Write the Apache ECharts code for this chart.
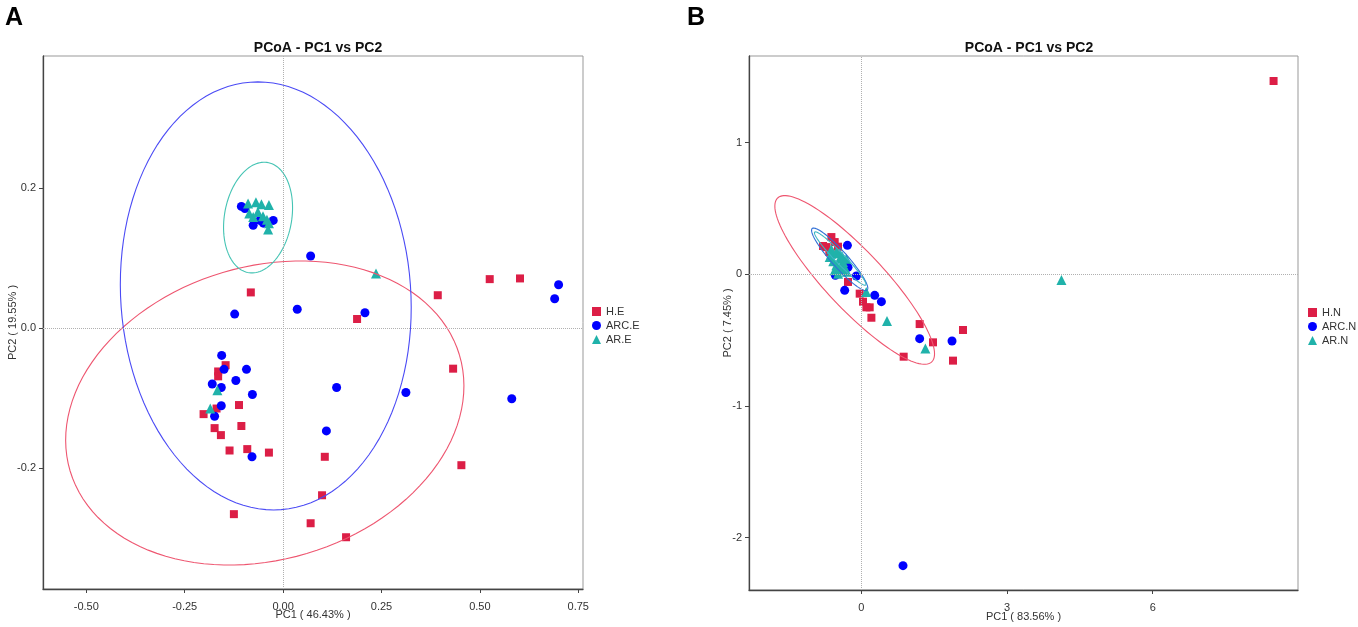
<!DOCTYPE html>
<html>
<head>
<meta charset="utf-8">
<script src="https://cdn.jsdelivr.net/npm/echarts@6/dist/echarts.min.js"></script>
<style>
  html, body { margin: 0; padding: 0; background: #fff; }
  #main { width: 1358px; height: 627px; }
</style>
</head>
<body>
<div id="main"></div>
<script>
// ---- panel A data (PC1, PC2) ----
var hE = [
  [-0.082, 0.051], [0.188, 0.013], [0.393, 0.047], [0.525, 0.070], [0.602, 0.071],
  [0.432, -0.058], [0.453, -0.196], [-0.146, -0.053], [-0.165, -0.062], [-0.165, -0.069],
  [-0.112, -0.110], [-0.169, -0.115], [-0.202, -0.123], [-0.174, -0.143], [-0.158, -0.153],
  [-0.106, -0.140], [-0.136, -0.175], [-0.091, -0.173], [-0.036, -0.178], [0.106, -0.184],
  [0.099, -0.239], [-0.125, -0.266], [0.070, -0.279], [0.160, -0.299]
];
var arcE = [
  [-0.106, 0.174], [-0.097, 0.171], [-0.076, 0.147], [-0.025, 0.154], [-0.059, 0.154],
  [-0.050, 0.150], [0.070, 0.103], [-0.123, 0.020], [0.036, 0.027], [0.208, 0.022],
  [0.700, 0.062], [0.690, 0.042], [0.136, -0.085], [0.312, -0.092], [0.581, -0.101],
  [0.110, -0.147], [-0.079, -0.184], [-0.156, -0.039], [-0.150, -0.059], [-0.093, -0.059],
  [-0.120, -0.075], [-0.180, -0.080], [-0.157, -0.085], [-0.078, -0.095], [-0.157, -0.111],
  [-0.174, -0.126]
];
var arE = [
  [-0.089, 0.178], [-0.069, 0.180], [-0.055, 0.177], [-0.036, 0.176], [-0.086, 0.164],
  [-0.064, 0.166], [-0.051, 0.160], [-0.041, 0.155], [-0.036, 0.150], [-0.038, 0.141],
  [-0.076, 0.159], [0.236, 0.078], [-0.167, -0.089], [-0.185, -0.115]
];
// ellipse: centre x, centre y, axis vector 1 (x, y), axis vector 2 (x, y)
var ellA = [
  [-0.0465, -0.1214, 0.4946, 0.0829, 0.1066, -0.2009],
  [-0.044, 0.046, 0.369, 0.0, -0.020, 0.306],
  [-0.0636, 0.158, 0.0872, 0.006, 0.009, 0.0789]
];

// ---- panel B data ----
var hN = [
  [8.49, 1.469], [2.093, -0.423], [1.887, -0.656], [1.475, -0.517], [1.20, -0.378],
  [0.871, -0.626], [0.206, -0.330], [0.171, -0.251], [0.103, -0.251], [0.033, -0.208],
  [-0.035, -0.147], [-0.276, -0.058], [-0.618, 0.283], [-0.55, 0.245], [-0.72, 0.207],
  [-0.79, 0.215], [-0.482, 0.210], [-0.66, 0.17]
];
var arcN = [
  [0.857, -2.214], [1.867, -0.507], [1.20, -0.489], [0.412, -0.208], [0.274, -0.160],
  [-0.344, -0.122], [-0.103, -0.013], [-0.536, -0.008], [-0.288, 0.220], [-0.276, 0.053]
];
var arN = [
  [-0.618, 0.157], [-0.515, 0.169], [-0.447, 0.119], [-0.379, 0.093], [-0.412, 0.055],
  [-0.344, 0.030], [-0.515, 0.068], [-0.48, 0.005], [-0.653, 0.131], [-0.31, 0.119],
  [-0.58, 0.10], [-0.45, 0.16], [-0.40, 0.14], [-0.36, 0.06], [-0.30, 0.02],
  [-0.55, 0.03], [-0.62, 0.19], [-0.47, 0.04],
  [0.10, -0.134], [0.528, -0.355], [1.318, -0.563], [4.12, -0.043]
];
var ellB = [
  [-0.138, -0.043, 1.586, -0.623, 0.435, 0.151],
  [-0.447, 0.114, 0.566, -0.234, -0.123, -0.0405],
  [-0.437, 0.120, 0.525, -0.201, -0.074, -0.026]
];

// tick labels
var xTicksA = [-0.5, -0.25, 0, 0.25, 0.5, 0.75];
var yTicksA = [-0.2, 0, 0.2];
var xTicksB = [0, 3, 6];
var yTicksB = [-2, -1, 0, 1];

var RED = '#dc1e46', BLUE = '#0000ff', TEAL = '#20b2aa';
var ellColors = ['#ee5670', '#4b4bf5', '#45c4b4'];
var ellColorsB = ['#ee5670', '#2f6fd6', '#3fb6c4'];
var FONT = '"Liberation Sans", Arial, sans-serif';

var chart = echarts.init(document.getElementById('main'));

function valueAxis(idx, min, max, ticks, fmt, name, gap, isX) {
  return {
    type: 'value', gridIndex: idx, min: min, max: max,
    name: name, nameLocation: 'middle', nameGap: gap, nameMoveOverlap: false,
    nameTextStyle: { fontFamily: FONT, fontSize: 11, color: '#333' },
    axisLine: { onZero: false, lineStyle: { color: '#444', width: 1.3 } },
    axisTick: { length: 4, customValues: ticks, lineStyle: { color: '#444' } },
    axisLabel: {
      customValues: ticks, margin: isX ? 12 : 7,
      fontFamily: FONT, fontSize: 11, color: '#333',
      formatter: fmt
    },
    splitLine: { show: false }
  };
}

function ellipseSeries(data, colors, xi, yi) {
  return {
    type: 'custom', xAxisIndex: xi, yAxisIndex: yi, silent: true, z: 4,
    data: data,
    encode: { x: 0, y: 1 },
    renderItem: function (params, api) {
      var cx = api.value(0), cy = api.value(1);
      var ax = api.value(2), ay = api.value(3), bx = api.value(4), by = api.value(5);
      var pts = [];
      for (var i = 0; i <= 120; i++) {
        var t = i / 120 * Math.PI * 2;
        pts.push(api.coord([cx + ax * Math.cos(t) + bx * Math.sin(t),
                            cy + ay * Math.cos(t) + by * Math.sin(t)]));
      }
      return {
        type: 'polyline', shape: { points: pts },
        style: { stroke: colors[params.dataIndex], fill: null, lineWidth: 1.1 }
      };
    },
    markLine: {
      silent: true, symbol: ['none', 'none'], label: { show: false },
      lineStyle: { color: '#b0b0b0', type: 'dotted', width: 1 },
      data: [{ xAxis: 0 }, { yAxis: 0 }]
    }
  };
}

function scatter(name, data, symbol, size, color, xi, yi) {
  return {
    name: name, type: 'scatter', xAxisIndex: xi, yAxisIndex: yi,
    data: data, symbol: symbol, symbolSize: size, z: 3,
    itemStyle: { color: color, opacity: 1 }
  };
}

var option = {
  animation: false,
  backgroundColor: '#fff',
  title: [
    { text: 'A', left: 0, top: 1, textStyle: { fontFamily: FONT, fontSize: 25, fontWeight: 'bold', color: '#000' } },
    { text: 'B', left: 682, top: 1, textStyle: { fontFamily: FONT, fontSize: 25, fontWeight: 'bold', color: '#000' } },
    { text: 'PCoA - PC1 vs PC2', left: 313, top: 36, textAlign: 'center',
      textStyle: { fontFamily: FONT, fontSize: 14, fontWeight: 'bold', color: '#111' } },
    { text: 'PCoA - PC1 vs PC2', left: 1024, top: 36, textAlign: 'center',
      textStyle: { fontFamily: FONT, fontSize: 14, fontWeight: 'bold', color: '#111' } }
  ],
  legend: [
    { data: ['H.E', 'ARC.E', 'AR.E'], orient: 'vertical', left: 592, top: 306,
      itemWidth: 9, itemHeight: 9, itemGap: 3, padding: 0,
      textStyle: { fontFamily: FONT, fontSize: 11, color: '#333' } },
    { data: ['H.N', 'ARC.N', 'AR.N'], orient: 'vertical', left: 1308, top: 307,
      itemWidth: 9, itemHeight: 9, itemGap: 3, padding: 0,
      textStyle: { fontFamily: FONT, fontSize: 11, color: '#333' } }
  ],
  grid: [
    { left: 43, top: 56, width: 540, height: 533, show: true, borderColor: '#999', borderWidth: 1,
      outerBoundsMode: 'none', containLabel: false },
    { left: 749, top: 56, width: 549, height: 534, show: true, borderColor: '#999', borderWidth: 1,
      outerBoundsMode: 'none', containLabel: false }
  ],
  xAxis: [
    valueAxis(0, -0.61, 0.762, xTicksA, function (v) { return v.toFixed(2); }, 'PC1 ( 46.43% )', 20, true),
    valueAxis(1, -2.315, 8.993, xTicksB, function (v) { return String(v); }, 'PC1 ( 83.56% )', 21, true)
  ],
  yAxis: [
    valueAxis(0, -0.373, 0.389, yTicksA, function (v) { return v.toFixed(1); }, 'PC2 ( 19.55% )', 25, false),
    valueAxis(1, -2.399, 1.659, yTicksB, function (v) { return String(v); }, 'PC2 ( 7.45% )', 16, false)
  ],
  series: [
    ellipseSeries(ellA, ellColors, 0, 0),
    scatter('H.E', hE, 'rect', 8, RED, 0, 0),
    scatter('ARC.E', arcE, 'circle', 9, BLUE, 0, 0),
    scatter('AR.E', arE, 'triangle', 10, TEAL, 0, 0),
    ellipseSeries(ellB, ellColorsB, 1, 1),
    scatter('H.N', hN, 'rect', 8, RED, 1, 1),
    scatter('ARC.N', arcN, 'circle', 9, BLUE, 1, 1),
    scatter('AR.N', arN, 'triangle', 10, TEAL, 1, 1)
  ]
};
chart.setOption(option);
</script>
</body>
</html>
